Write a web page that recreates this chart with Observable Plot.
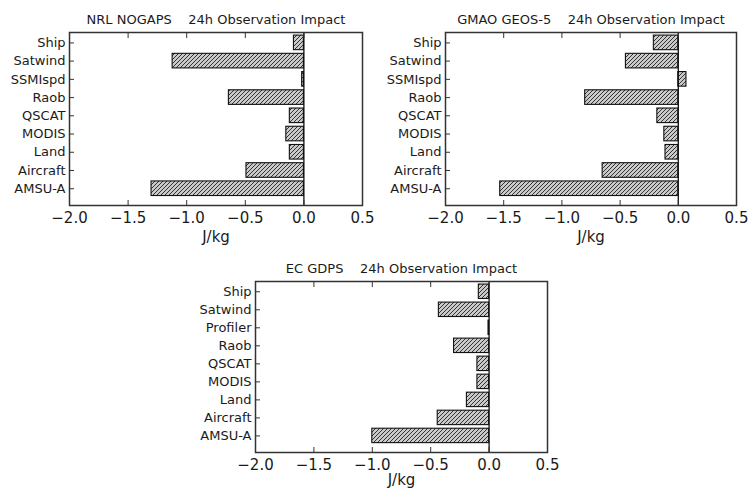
<!DOCTYPE html>
<html>
<head>
<meta charset="utf-8">
<script src="https://cdn.jsdelivr.net/npm/d3@7"></script>
<script src="https://cdn.jsdelivr.net/npm/@observablehq/plot@0.6"></script>
<style>
  body { margin: 0; background: #fff; }
  #wrap { position: relative; width: 750px; height: 490px; overflow: hidden; background: #fff; }
  #wrap svg { position: absolute; overflow: visible; }
</style>
</head>
<body>
<div id="wrap"></div>
<script>
// ---- data ----
const labelsTop = ["AMSU-A", "Aircraft", "Land", "MODIS", "QSCAT", "Raob", "SSMIspd", "Satwind", "Ship"];
const labelsEC = ["AMSU-A", "Aircraft", "Land", "MODIS", "QSCAT", "Raob", "Profiler", "Satwind", "Ship"];
const nogapsImpact = [-1.30, -0.49, -0.12, -0.15, -0.12, -0.64, -0.015, -1.12, -0.085];
const geos5Impact = [-1.53, -0.65, -0.11, -0.12, -0.18, -0.80, 0.07, -0.45, -0.21];
const gdpsImpact = [-1.00, -0.44, -0.19, -0.10, -0.10, -0.30, -0.005, -0.43, -0.088];
const xTicks = [-2.0, -1.5, -1.0, -0.5, 0.0, 0.5];
const titles = ["NRL NOGAPS", "GMAO GEOS-5", "EC GDPS"];
const subtitle = "24h Observation Impact";
const unitLabel = "J/kg";

const FONT = "DejaVu Sans, Verdana, sans-serif";
const TXT = "#1a1a1a";
const fmt = d3.format(".1f");

function panel(id, labels, values, title, box) {
  const data = labels.map((name, i) => ({name, i, v: values[i]}));
  const yTicks = d3.range(labels.length);
  const svg = Plot.plot({
    width: box.w, height: box.h,
    marginLeft: box.ml, marginRight: box.mr, marginTop: box.mt, marginBottom: box.mb,
    style: {fontFamily: FONT, color: TXT, background: "transparent", overflow: "visible"},
    x: {domain: [-2, 0.5], axis: null},
    y: {domain: [-0.92, 8.57], axis: null},
    marks: [
      Plot.rect(data, {x1: 0, x2: "v", y1: d => d.i - 0.4, y2: d => d.i + 0.4,
        fill: `url(#${id})`, stroke: "#111", strokeWidth: 1.1}),
      Plot.ruleX([0], {stroke: "#111", strokeWidth: 1.3}),
      // y labels
      Plot.axisY(yTicks, {anchor: "left", tickSize: 0, tickPadding: 4, fontSize: 13,
        tickFormat: i => labels[i], label: null}),
      // y inward ticks
      Plot.axisY(yTicks, {anchor: "left", tickSize: 5, text: null, dx: 5, stroke: "#333", label: null}),
      // x labels
      Plot.axisX(xTicks, {anchor: "bottom", tickSize: 0, tickPadding: 7, fontSize: 15,
        tickFormat: d => fmt(d), label: null}),
      // x inward ticks bottom & top
      Plot.axisX(xTicks, {anchor: "bottom", tickSize: 5, text: null, dy: -5, stroke: "#333", label: null}),
      Plot.axisX(xTicks, {anchor: "top", tickSize: 5, text: null, dy: 5, stroke: "#333", label: null}),
      Plot.frame({stroke: "#333", strokeWidth: 1.5}),
      Plot.text([title + "\u00a0\u00a0\u00a0\u00a0" + subtitle], {frameAnchor: "top", dy: -9,
        lineAnchor: "bottom", fontSize: 13, fill: TXT}),
      Plot.text([unitLabel], {frameAnchor: "bottom", dy: box.ldy, lineAnchor: "middle",
        fontSize: 15, fill: TXT})
    ]
  });
  const defs = d3.select(svg).insert("defs", ":first-child");
  const p = defs.append("pattern").attr("id", id).attr("patternUnits", "userSpaceOnUse")
    .attr("width", 4).attr("height", 4);
  p.append("rect").attr("width", 4).attr("height", 4).attr("fill", "#cacaca");
  p.append("path").attr("d", "M-1,1 l2,-2 M0,4 l4,-4 M3,5 l2,-2")
    .attr("stroke", "#333").attr("stroke-width", 1);
  svg.style.left = box.x + "px";
  svg.style.top = box.y + "px";
  document.getElementById("wrap").appendChild(svg);
}

panel("hatch1", labelsTop, nogapsImpact, titles[0],
  {x: 0, y: 0, w: 375, h: 250, ml: 69, mr: 13, mt: 32, mb: 45, ldy: 32});
panel("hatch2", labelsTop, geos5Impact, titles[1],
  {x: 375, y: 0, w: 375, h: 250, ml: 70, mr: 14, mt: 32, mb: 45, ldy: 32});
panel("hatch3", labelsEC, gdpsImpact, titles[2],
  {x: 190, y: 250, w: 380, h: 240, ml: 65, mr: 23, mt: 31, mb: 38, ldy: 28});
</script>
</body>
</html>
